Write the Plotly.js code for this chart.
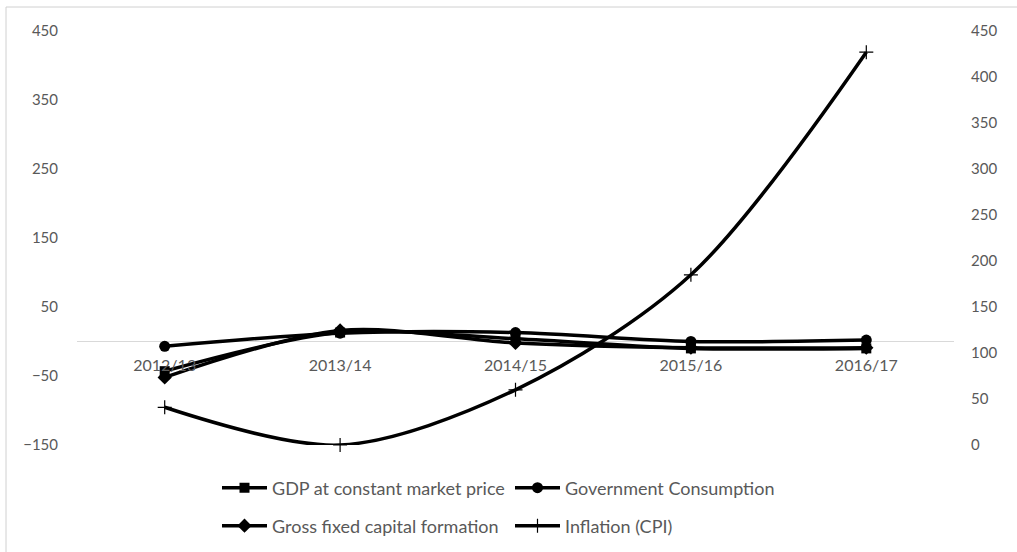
<!DOCTYPE html>
<html>
<head>
<meta charset="utf-8">
<script src="https://cdn.plot.ly/plotly-3.0.1.min.js"></script>
<style>
  html, body { margin: 0; padding: 0; background: #fff; }
  #chart { width: 1017px; height: 552px; }
</style>
</head>
<body>
<div id="chart"></div>
<script>
// Fiscal years on the category axis
const years = ["2012/13", "2013/14", "2014/15", "2015/16", "2016/17"];

// Growth series (left axis)
const gdpConstant = [-43, 13, 4, -10, -10];
const govConsumption = [-7, 12, 13, 0, 2];
const grossFixedCapital = [-52, 16, -2, -9, -9];

// Inflation (right axis)
const inflationCPI = [41, 0, 60, 185, 427];

// Axis ticks
const leftTicks = [-150, -50, 50, 150, 250, 350, 450];
const rightTicks = [0, 50, 100, 150, 200, 250, 300, 350, 400, 450];

const FONT = "Lato, 'Open Sans', sans-serif";
const TICK_COLOR = "#595959";
const LEGEND_COLOR = "#595959";

function series(name, y, symbol, size, legend, extra) {
  return Object.assign({
    type: "scatter",
    mode: "lines+markers",
    x: years,
    y: y,
    name: name,
    legend: legend,
    line: { color: "#000", width: 3.5, shape: "spline", smoothing: 0.9 },
    marker: { symbol: symbol, size: size, color: "#000" },
    cliponaxis: false
  }, extra || {});
}

const traces = [
  series("GDP at constant market price", gdpConstant, "square", 10, "legend"),
  series("Government Consumption", govConsumption, "circle", 11, "legend"),
  series("Gross fixed capital formation", grossFixedCapital, "diamond", 11, "legend2"),
  series("Inflation (CPI)", inflationCPI, "cross-thin", 10, "legend2", {
    yaxis: "y2",
    marker: { symbol: "cross-thin", size: 10, color: "#000", line: { color: "#000", width: 1.2 } }
  })
];

const legendBase = {
  orientation: "h",
  xref: "container",
  yref: "container",
  xanchor: "left",
  yanchor: "middle",
  x: 217 / 1017,
  entrywidth: 233,
  itemwidth: 45,
  font: { family: FONT, size: 18, color: LEGEND_COLOR },
  bgcolor: "rgba(0,0,0,0)",
  borderwidth: 0
};

const layout = {
  width: 1017,
  height: 552,
  margin: { l: 77, r: 63, t: 31, b: 107 },
  paper_bgcolor: "#fff",
  plot_bgcolor: "#fff",
  font: { family: FONT, size: 16, color: TICK_COLOR },
  showlegend: true,
  xaxis: {
    type: "category",
    range: [-0.5, 4.5],
    anchor: "free",
    position: 0.25,
    showline: false,
    showgrid: false,
    zeroline: false,
    ticks: "",
    ticklabelstandoff: 12,
    tickfont: { family: FONT, size: 16, color: TICK_COLOR }
  },
  yaxis: {
    range: [-150, 450],
    tickvals: leftTicks,
    showgrid: false,
    zeroline: true,
    zerolinecolor: "#d9d9d9",
    zerolinewidth: 1,
    showline: false,
    ticks: "",
    ticklabelstandoff: 18,
    tickfont: { family: FONT, size: 15, color: TICK_COLOR }
  },
  yaxis2: {
    overlaying: "y",
    side: "right",
    range: [0, 450],
    tickvals: rightTicks,
    showgrid: false,
    zeroline: false,
    showline: false,
    ticks: "",
    ticklabelstandoff: 16,
    tickfont: { family: FONT, size: 15, color: TICK_COLOR }
  },
  legend: Object.assign({}, legendBase, { y: 1 - 488 / 552 }),
  legend2: Object.assign({}, legendBase, { y: 1 - 526 / 552 }),
  shapes: [{
    type: "rect",
    xref: "paper", yref: "paper",
    x0: (6 - 77) / 877, x1: (1030 - 77) / 877,
    y0: (445 - 570) / 414, y1: (445 - 7) / 414,
    line: { color: "#d0d0d0", width: 1 },
    fillcolor: "rgba(0,0,0,0)",
    layer: "below"
  }]
};

Plotly.newPlot("chart", traces, layout, { displayModeBar: false, staticPlot: true });
</script>
</body>
</html>
